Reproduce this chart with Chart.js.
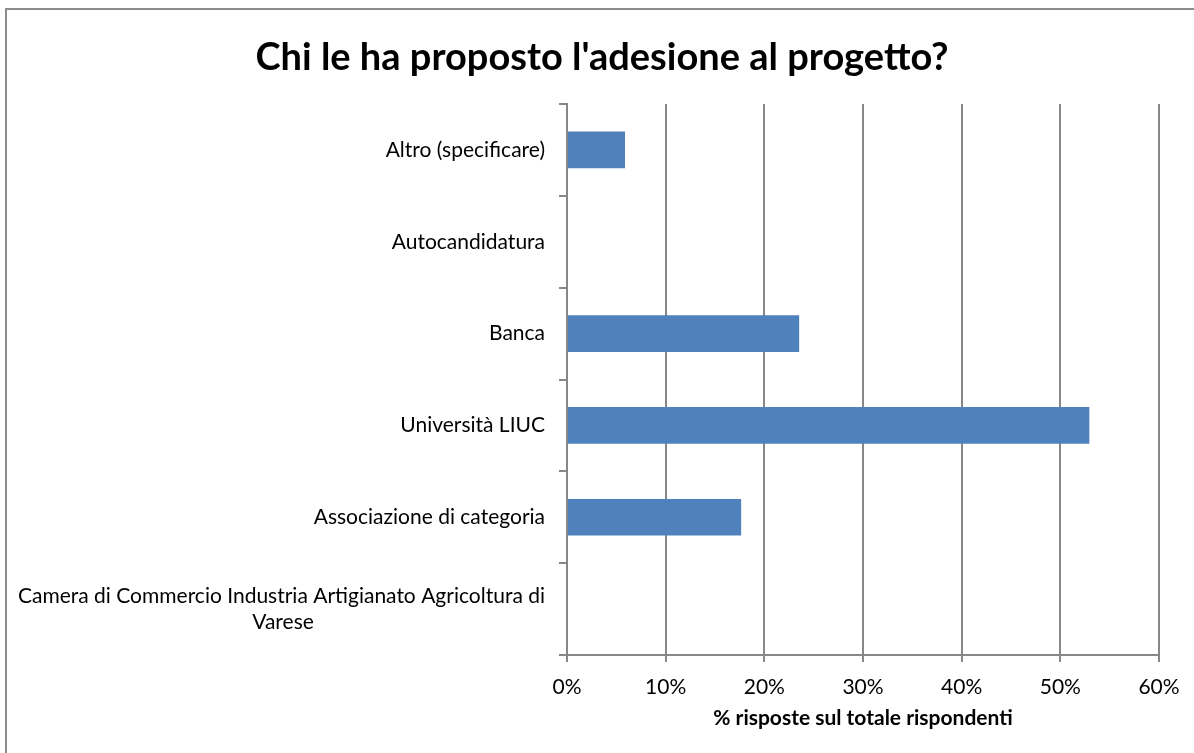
<!DOCTYPE html>
<html>
<head>
<meta charset="utf-8">
<script src="https://cdn.jsdelivr.net/npm/chart.js@4.4.1/dist/chart.umd.min.js"></script>
<style>
  html, body { margin: 0; padding: 0; background: #fff; overflow: hidden; }
  #wrap { position: relative; width: 1194px; height: 753px; }
  #frame { position: absolute; left: 5px; top: 8px; width: 1200px; height: 760px;
           border-top: 2px solid #8c8c8c; border-left: 2px solid #8c8c8c; pointer-events: none; }
  canvas { position: absolute; left: 0; top: 0; }
  #title { position: absolute; left: 102px; width: 1000px; top: 32px; height: 46px; line-height: 46px;
           text-align: center; font-family: Lato, 'Open Sans', sans-serif; font-weight: bold;
           font-size: 38px; color: #000; white-space: nowrap; }
</style>
</head>
<body>
<div id="wrap">
  <div id="frame"></div>
  <canvas id="c" width="1194" height="753"></canvas>
  <div id="title"></div>
</div>
<script>
const chartTitle = "Chi le ha proposto l'adesione al progetto?";
const xAxisTitle = "% risposte sul totale rispondenti";
const categories = [
  "Altro (specificare)",
  "Autocandidatura",
  "Banca",
  "Università LIUC",
  "Associazione di categoria",
  ["Camera di Commercio Industria Artigianato Agricoltura di", "Varese"]
];
const percentValues = [5.88, 0, 23.53, 52.94, 17.65, 0];
const xTickValues = [0, 10, 20, 30, 40, 50, 60];

document.getElementById('title').textContent = chartTitle;

const FONT = "Lato, 'Open Sans', sans-serif";
const LABEL_SIZE = 21;

// centre the second line of the multi-line label under the first line
function centeredLines(lines) {
  const ctx = document.createElement('canvas').getContext('2d');
  ctx.font = LABEL_SIZE + 'px ' + FONT;
  const w0 = ctx.measureText(lines[0]).width;
  const sp = ctx.measureText(' ').width;
  return lines.map((l, i) => {
    if (i === 0) return l;
    const w = ctx.measureText(l).width;
    const n = Math.max(0, Math.round((w0 - w) / 2 / sp));
    return l + ' '.repeat(n);
  });
}
const labels = categories.map(c => Array.isArray(c) ? centeredLines(c) : c);

const GRID = '#878787';

new Chart(document.getElementById('c'), {
  type: 'bar',
  data: {
    labels: labels,
    datasets: [{
      data: percentValues,
      backgroundColor: '#4F81BD',
      borderWidth: 0,
      categoryPercentage: 1.0,
      barPercentage: 0.4
    }]
  },
  options: {
    indexAxis: 'y',
    responsive: false,
    animation: false,
    layout: { padding: { left: 0, right: 35, top: 104, bottom: 0 } },
    plugins: {
      legend: { display: false },
      tooltip: { enabled: false },
      title: { display: false }
    },
    scales: {
      x: {
        min: 0, max: 60,
        afterBuildTicks: s => { s.ticks = xTickValues.map(v => ({ value: v })); },
        afterFit: s => { s.height = 98; },
        ticks: {
          callback: v => v + '%',
          color: '#000',
          font: { family: FONT, size: LABEL_SIZE },
          padding: 13,
          maxRotation: 0
        },
        grid: { color: GRID, lineWidth: 2, tickLength: 7, drawTicks: true },
        border: { color: GRID, width: 2 },
        title: {
          display: true,
          text: xAxisTitle,
          color: '#000',
          font: { family: FONT, size: 21, weight: 'bold', lineHeight: 1.2 },
          padding: { top: 0, bottom: 22.4 }
        }
      },
      y: {
        afterFit: s => { s.width = 567; },
        ticks: {
          color: '#000',
          font: { family: FONT, size: LABEL_SIZE, lineHeight: 1.22 },
          padding: 14,
          autoSkip: false
        },
        grid: { color: GRID, lineWidth: 2, tickLength: 8, drawOnChartArea: false, offset: true },
        border: { color: GRID, width: 2 }
      }
    }
  }
});
</script>
</body>
</html>
